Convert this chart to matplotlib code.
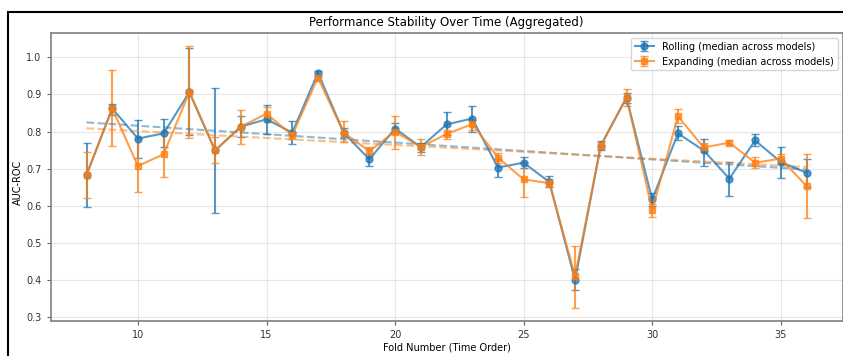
import numpy as np
import matplotlib.pyplot as plt
from matplotlib.patches import Rectangle

folds = np.arange(8, 37)

# median AUC across models per fold
roll_med = [0.683, 0.862, 0.781, 0.795, 0.906, 0.749, 0.813, 0.833, 0.797, 0.958,
            0.797, 0.725, 0.808, 0.758, 0.819, 0.835, 0.703, 0.716, 0.664, 0.400,
            0.762, 0.891, 0.617, 0.795, 0.749, 0.673, 0.776, 0.718, 0.689]
roll_lo = [0.598, 0.845, 0.730, 0.757, 0.790, 0.580, 0.784, 0.793, 0.767, 0.950,
           0.785, 0.707, 0.795, 0.745, 0.790, 0.800, 0.677, 0.702, 0.650, 0.373,
           0.750, 0.878, 0.600, 0.776, 0.707, 0.626, 0.761, 0.675, 0.650]
roll_hi = [0.770, 0.875, 0.832, 0.834, 1.026, 0.918, 0.843, 0.871, 0.827, 0.962,
           0.810, 0.740, 0.822, 0.770, 0.853, 0.870, 0.725, 0.731, 0.680, 0.430,
           0.775, 0.905, 0.635, 0.815, 0.780, 0.719, 0.792, 0.759, 0.727]

exp_med = [0.683, 0.862, 0.707, 0.739, 0.906, 0.749, 0.813, 0.848, 0.790, 0.945,
           0.797, 0.747, 0.800, 0.758, 0.793, 0.820, 0.730, 0.671, 0.661, 0.411,
           0.762, 0.893, 0.588, 0.841, 0.757, 0.770, 0.716, 0.727, 0.653]
exp_lo = [0.622, 0.761, 0.637, 0.677, 0.783, 0.715, 0.766, 0.825, 0.780, 0.938,
          0.772, 0.735, 0.754, 0.736, 0.780, 0.805, 0.715, 0.624, 0.650, 0.325,
          0.752, 0.869, 0.570, 0.822, 0.745, 0.764, 0.703, 0.712, 0.568]
exp_hi = [0.746, 0.966, 0.780, 0.800, 1.030, 0.786, 0.859, 0.866, 0.800, 0.952,
          0.828, 0.758, 0.843, 0.781, 0.805, 0.832, 0.743, 0.718, 0.672, 0.493,
          0.772, 0.914, 0.605, 0.860, 0.770, 0.776, 0.731, 0.740, 0.740]

roll_med = np.array(roll_med)
exp_med = np.array(exp_med)
roll_err = [roll_med - np.array(roll_lo), np.array(roll_hi) - roll_med]
exp_err = [exp_med - np.array(exp_lo), np.array(exp_hi) - exp_med]

fig = plt.figure(figsize=(8.43, 3.56), dpi=100)
ax = fig.add_axes([50.5/843, 1 - 321/356, 792/843, 288/356])

ax.errorbar(folds, roll_med, yerr=roll_err, marker='o', markersize=5, capsize=3,
            linewidth=1.5, alpha=0.75, color='C0', label='Rolling (median across models)')
ax.errorbar(folds, exp_med, yerr=exp_err, marker='s', markersize=5, capsize=3,
            linewidth=1.5, alpha=0.75, color='C1', label='Expanding (median across models)')

# linear trends
for med, c in [(roll_med, 'C0'), (exp_med, 'C1')]:
    p = np.polyfit(folds, med, 1)
    ax.plot(folds, np.polyval(p, folds), '--', color=c, alpha=0.5, linewidth=1.5)

ax.set_title('Performance Stability Over Time (Aggregated)', fontsize=8.5, pad=5)
ax.set_xlabel('Fold Number (Time Order)', fontsize=7, labelpad=2)
ax.set_ylabel('AUC-ROC', fontsize=7)
ax.yaxis.set_label_coords(-27.5/792, 0.48)
ax.tick_params(labelsize=7, color='0.4', labelcolor='0.2', length=3)
ax.set_xticks([10, 15, 20, 25, 30, 35])
ax.grid(True, alpha=0.3)
for s in ax.spines.values():
    s.set_color('0.5')
    s.set_linewidth(1.2)
ax.legend(loc='upper right', fontsize=7)

fig.patches.append(Rectangle((8/843, -0.1), 1.2, 1 - 11.5/356 + 0.1,
                             transform=fig.transFigure, fill=False,
                             edgecolor='black', linewidth=1.5))

fig.savefig('out.png', dpi=100)
